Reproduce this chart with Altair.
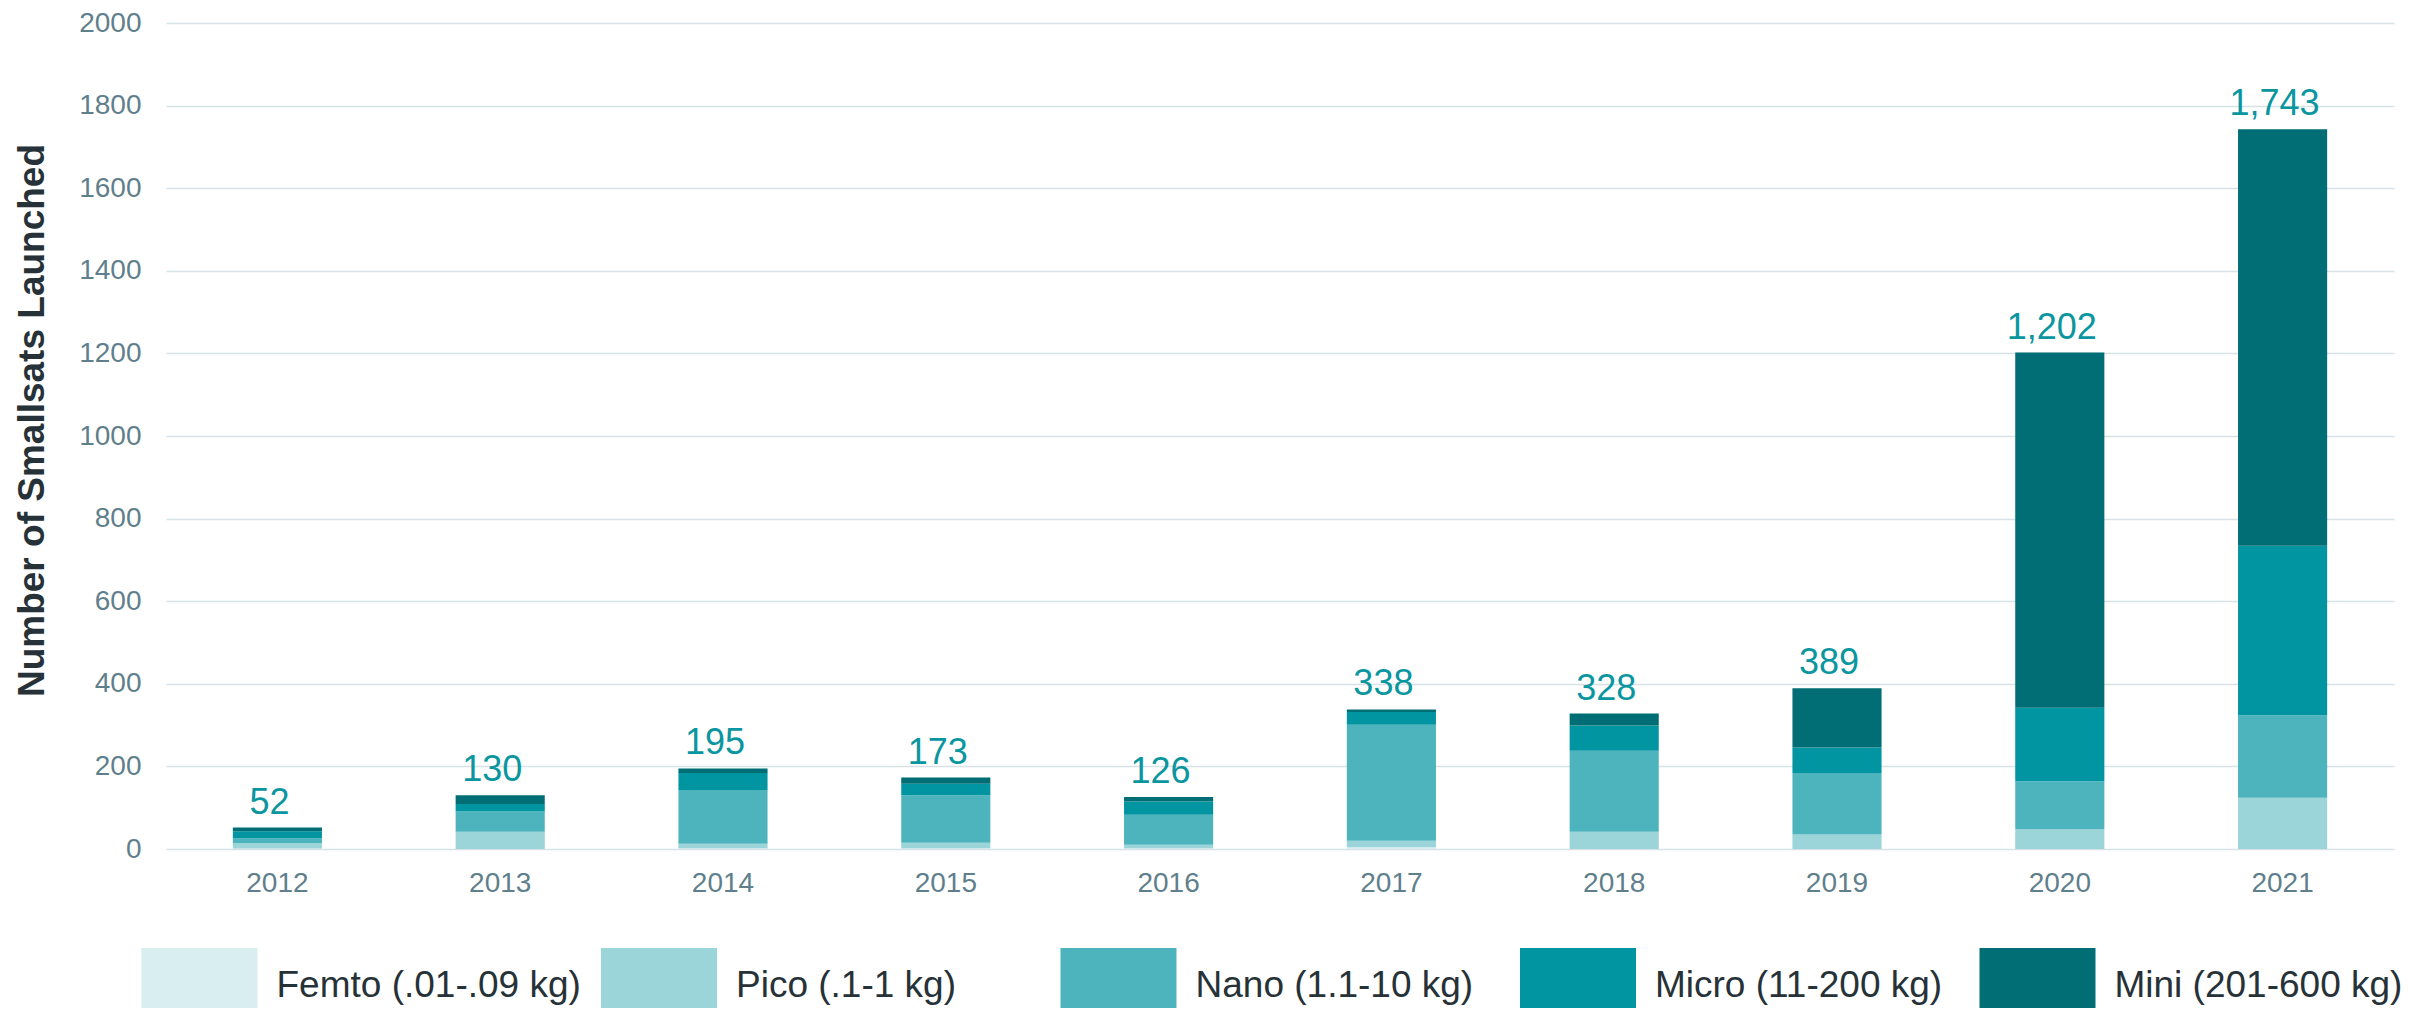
import altair as alt
import pandas as pd

# ---- data ----
years = ["2012", "2013", "2014", "2015", "2016", "2017", "2018", "2019", "2020", "2021"]
categories = ["Femto (.01-.09 kg)", "Pico (.1-1 kg)", "Nano (1.1-10 kg)",
              "Micro (11-200 kg)", "Mini (201-600 kg)"]
femto = [1, 0, 2, 2, 2, 4, 0, 0, 0, 0]
pico = [13, 42, 11, 13, 8, 16, 42, 35, 48, 124]
nano = [12, 49, 130, 115, 73, 281, 196, 149, 116, 200]
micro = [17, 18, 41, 28, 32, 31, 61, 62, 178, 410]
mini = [9, 21, 11, 15, 11, 6, 29, 143, 860, 1009]
y_ticks = [0, 200, 400, 600, 800, 1000, 1200, 1400, 1600, 1800, 2000]

colors = ["#d9eef0", "#9bd5d9", "#4db4bd", "#0095a0", "#006e74"]

rows = []
for ci, (cat, vals) in enumerate(zip(categories, [femto, pico, nano, micro, mini])):
    for yr, v in zip(years, vals):
        rows.append({"year": yr, "size": cat, "count": v, "ord": ci})
df = pd.DataFrame(rows)

FONT = "Liberation Sans"
TICK = "#5f7f8c"
DARK = "#263238"
LABEL = "#0a96a0"
GRID = "#d8e1e5"

x_axis = alt.Axis(labelAngle=0, labelFontSize=28, labelFont=FONT, labelColor=TICK,
                  domain=False, ticks=False, tickSize=0, labelPadding=42,
                  labelBaseline="alphabetic", grid=False)
y_axis = alt.Axis(values=y_ticks, format="d", labelFontSize=28, labelFont=FONT,
                  labelColor=TICK, labelPadding=25, domain=False, ticks=False,
                  tickSize=0, grid=True, gridColor=GRID, gridWidth=1.6,
                  titleFont=FONT, titleFontSize=37, titleFontWeight="bold",
                  titleColor=DARK, titleAngle=270, titleAlign="center",
                  titleBaseline="alphabetic", titleX=-123, titleY=397)

legend = alt.Legend(
    title=None, orient="none", legendX=-4, legendY=925,
    direction="horizontal", columns=5, gridAlign="all",
    symbolType="M-1.5467,-1L1.5467,-1L1.5467,1L-1.5467,1Z",
    symbolSize=5625, symbolStrokeWidth=0, symbolOpacity=1,
    labelOffset=39.5, columnPadding=19.5, labelFontSize=37, labelFont=FONT,
    labelColor=DARK, labelLimit=600, padding=0, labelBaseline="middle",
)

bars = alt.Chart(df).mark_bar().encode(
    x=alt.X("year:N", sort=years, title=None,
            scale=alt.Scale(paddingInner=0.6, paddingOuter=0.3), axis=x_axis),
    y=alt.Y("count:Q", stack="zero", title="Number of Smallsats Launched",
            scale=alt.Scale(domain=[0, 2000], nice=False), axis=y_axis),
    color=alt.Color("size:N", scale=alt.Scale(domain=categories, range=colors),
                    legend=legend),
    order=alt.Order("ord:Q", sort="ascending"),
)

labels = alt.Chart(df).mark_text(
    font=FONT, fontSize=36, color=LABEL, baseline="alphabetic",
    align="center", dy=-14, dx=-8,
).encode(
    x=alt.X("year:N", sort=years),
    y=alt.Y("sum(count):Q"),
    text=alt.Text("sum(count):Q", format=",d"),
)

chart = alt.layer(bars, labels).properties(
    width=2228, height=826,
    autosize=alt.AutoSizeParams(type="none"),
    padding={"left": 158, "top": 15, "right": 20, "bottom": 159},
).configure_view(strokeWidth=0)

chart.save("out.html", embed_options={"renderer": "svg", "actions": False})
